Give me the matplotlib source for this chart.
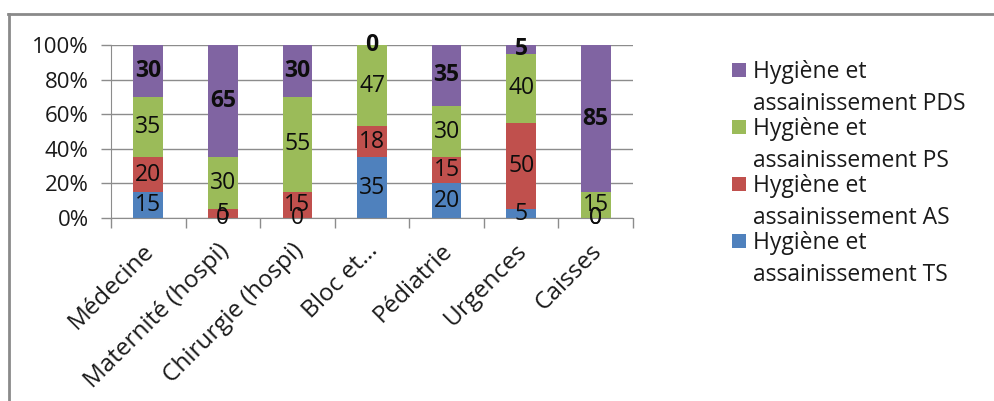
import matplotlib
matplotlib.use("Agg")
import matplotlib.pyplot as plt
from matplotlib.lines import Line2D
from matplotlib.patches import Rectangle
from matplotlib.transforms import ScaledTranslation
import numpy as np

plt.rcParams['font.family'] = ['Open Sans', 'DejaVu Sans']

categories = ["Médecine", "Maternité (hospi)", "Chirurgie (hospi)", "Bloc et…",
              "Pédiatrie", "Urgences", "Caisses"]
ts = [15, 0, 0, 35, 20, 5, 0]
as_ = [20, 5, 15, 18, 15, 50, 0]
ps = [35, 30, 55, 47, 30, 40, 15]
pds = [30, 65, 30, 0, 35, 5, 85]

series_first = "Hygiène et"
series_second = ["assainissement TS", "assainissement AS",
                 "assainissement PS", "assainissement PDS"]
colors = ["#4F81BD", "#C0504D", "#9BBB59", "#8064A2"]
series = [ts, as_, ps, pds]

W, H = 994, 401
GRAY = '#8c8c8c'
fig = plt.figure(figsize=(W / 100, H / 100), dpi=100)
ax = fig.add_axes([111 / W, 1 - 218 / H, (633 - 111) / W, (218 - 45) / H])

x = np.arange(len(categories))
totals = np.sum(np.array(series, dtype=float), axis=0)
bottom = np.zeros(len(categories))
for k, (vals, col) in enumerate(zip(series, colors)):
    frac = np.array(vals, dtype=float) / totals
    ax.bar(x, frac, width=0.40, bottom=bottom, color=col, zorder=2)
    for i, v in enumerate(vals):
        ax.text(x[i], bottom[i] + frac[i] / 2, f"{v}", ha='center', va='center',
                fontsize=16.5, color='#0d0d0d',
                fontweight='bold' if k == 3 else 'normal', zorder=3)
    bottom += frac

ax.set_xlim(-0.5, len(categories) - 0.5)
ax.set_ylim(0, 1)
ax.set_yticks(np.linspace(0, 1, 6))
ax.set_yticklabels([f"{int(t)}%" for t in np.linspace(0, 100, 6)], fontsize=16,
                   color='#1a1a1a')
ax.yaxis.grid(True, color=GRAY, linewidth=1.0, zorder=0)
ax.set_axisbelow(True)
ax.tick_params(axis='y', length=7, width=1, color=GRAY, pad=9)

ax.set_xticks(x)
ax.set_xticklabels(categories, rotation=45, ha='right', rotation_mode='anchor',
                   fontsize=17.5, color='#1a1a1a')
ax.set_xticks(np.arange(-0.5, len(categories), 1), minor=True)
ax.tick_params(axis='x', which='major', length=0, pad=15)
ax.tick_params(axis='x', which='minor', length=7, width=1, color=GRAY)
shift = ScaledTranslation(-6 / 100, 0, fig.dpi_scale_trans)
for lab in ax.get_xticklabels():
    lab.set_transform(lab.get_transform() + shift)

for s in ['top', 'right']:
    ax.spines[s].set_visible(False)
ax.spines['bottom'].set_color(GRAY)
ax.spines['left'].set_color(GRAY)

# Legend, top entry first: square, then two lines of text
for j, k in enumerate([3, 2, 1, 0]):
    yc = 70 + 57 * j
    fig.patches.append(Rectangle((732 / W, 1 - (yc + 7) / H), 14 / W, 14 / H,
                                 transform=fig.transFigure, facecolor=colors[k],
                                 edgecolor='none'))
    fig.text(753 / W, 1 - (78 + 57 * j) / H, series_first, ha='left',
             va='baseline', fontsize=16.5, color='#1a1a1a')
    fig.text(753 / W, 1 - (110 + 57 * j) / H, series_second[k], ha='left',
             va='baseline', fontsize=16.5, color='#1a1a1a')

# Outer frame
fig.add_artist(Line2D([8 / W, 993 / W], [1 - 14 / H, 1 - 14 / H],
                      transform=fig.transFigure, color='#8a8a8a', linewidth=2))
fig.add_artist(Line2D([9 / W, 9 / W], [1 - 14 / H, 0],
                      transform=fig.transFigure, color='#8a8a8a', linewidth=2))

fig.savefig("out.png", dpi=100, facecolor='white')
